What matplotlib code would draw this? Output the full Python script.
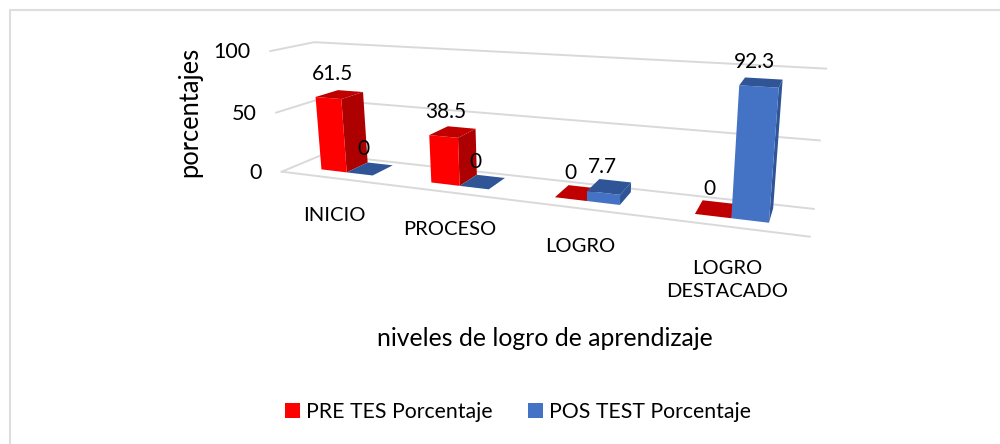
import numpy as np
import matplotlib
matplotlib.use('Agg')
import matplotlib.pyplot as plt
from matplotlib.patches import Polygon, Patch

plt.rcParams['font.family'] = ['Lato', 'DejaVu Sans']

categories = ['INICIO', 'PROCESO', 'LOGRO', 'LOGRO\nDESTACADO']
pre_test = [61.5, 38.5, 0, 0]
pos_test = [0, 0, 7.7, 92.3]
y_ticks = [0, 50, 100]

BAR_LO, BAR_HI = 0.26, 0.74
D0, D1 = 0.3, 0.85

# known spots (x, depth, height in %) -> where they land on the picture
box_pts = [(0, 0, 0), (0, 0, 50), (0, 0, 100), (0, 1, 100),
           (1, 1, 100), (1, 1, 50), (1, 1, 0), (1, 0, 0),
           # bar corners
           (.125, D0, 0), (.375, D0, 0), (.625, D0, 0), (.875, D0, 0),
           (BAR_LO / 4, D0, 61.5), (BAR_HI / 4, D1, 0), (BAR_HI / 4, D0, 0),
           ((3 + BAR_HI) / 4, D0, 92.3), ((3 + BAR_HI) / 4, D0, 0), ((3 + BAR_HI) / 4, D1, 92.3),
           (.125, D1, 61.5), ((3 + BAR_LO) / 4, D1, 0), ((2 + BAR_LO) / 4, D1, 0)]
img_pts = [(282, 172), (275, 113), (268, 52), (318, 41),
           (827, 69), (820, 139), (814, 207), (809, 238),
           (348, 171), (462, 185), (588, 201), (732, 218),
           (317, 97), (389, 166), (374, 174),
           (778, 87), (769, 222), (782, 80),
           (360, 93), (702, 203), (568, 187)]

# solve the perspective camera from those points
rows = []
rhs = []
for (a, b, c), (u, v) in zip(box_pts, img_pts):
    c = c / 100
    rows.append([a, b, c, 1, 0, 0, 0, 0, -u * a, -u * b, -u * c])
    rhs.append(u)
    rows.append([0, 0, 0, 0, a, b, c, 1, -v * a, -v * b, -v * c])
    rhs.append(v)
cam = np.linalg.lstsq(np.array(rows, float), np.array(rhs, float), rcond=None)[0]
cam = np.append(cam, 1).reshape(3, 4)


def project(x, d, z):
    p = cam @ np.array([x, d, z / 100, 1])
    return p[0] / p[2], p[1] / p[2]


def bar(ax, x0, x1, value, front, side, top):
    A = project(x0, D0, 0)
    B = project(x1, D0, 0)
    C = project(x1, D0, value)
    D = project(x0, D0, value)
    E = project(x1, D1, 0)
    F = project(x1, D1, value)
    G = project(x0, D1, value)
    ax.add_patch(Polygon([B, E, F, C], fc=side, ec='none', zorder=3))
    if value > 0:
        ax.add_patch(Polygon([A, B, C, D], fc=front, ec='none', zorder=3))
    ax.add_patch(Polygon([D, C, F, G], fc=top, ec='none', zorder=3))


fig = plt.figure(figsize=(10, 4.44), dpi=100)
ax = fig.add_axes([0, 0, 1, 1])
ax.set_xlim(0, 1000)
ax.set_ylim(444, 0)
ax.axis('off')

# chart frame, only top and left show
ax.plot([9.5, 9.5, 1000], [444, 10.5, 10.5], color='#dedede', lw=1.5, zorder=0)

# gridlines on side and back walls, plus the floor edge
grid = dict(color='#d9d9d9', lw=1.4, zorder=1)
for t in y_ticks:
    pts = [project(0, 0, t), project(0, 1, t), project(1, 1, t)]
    ax.plot(*zip(*pts), **grid)
    fx, fy = project(0, 0, t)
    ax.text(fx - 20, fy + 1, str(t), ha='right', va='center', fontsize=15.5, color='black')
ax.plot(*zip(project(0, 0, 0), project(1, 0, 0)), **grid)

n = len(categories)
for i in range(n):
    x0 = (i + BAR_LO) / n
    xm = (i + 0.5) / n
    x1 = (i + BAR_HI) / n
    bar(ax, x0, xm, pre_test[i], '#ff0000', '#ad0000', '#c00000')
    bar(ax, xm, x1, pos_test[i], '#4472c4', '#2f5597', '#2f5597')
    for a, b, v in [(x0, xm, pre_test[i]), (xm, x1, pos_test[i])]:
        lx, ly = project((a + b) / 2, (D0 + D1) / 2, v)
        ax.text(lx - 7, ly - 20, f'{v:g}', ha='center', va='center', fontsize=15, color='black', zorder=5)

label_pos = [(334, 215), (450, 229), (580, 246), (727, 280)]
for name, (lx, ly) in zip(categories, label_pos):
    ax.text(lx, ly, name, ha='center', va='center', fontsize=14.5, color='black', linespacing=1.45)

ax.text(190, 112, 'porcentajes', rotation=90, ha='center', va='center', fontsize=18.4, color='black')
ax.text(545, 338, 'niveles de logro de aprendizaje', ha='center', va='center', fontsize=17.8, color='black')

handles = [Patch(fc='#ff0000', label='PRE TES Porcentaje'), Patch(fc='#4472c4', label='POS TEST Porcentaje')]
ax.legend(handles=handles, ncols=2, loc='center', bbox_to_anchor=(518, 412), bbox_transform=ax.transData,
          frameon=False, fontsize=15.3, handlelength=0.7, handleheight=0.7, handletextpad=0.28, columnspacing=1.7)

fig.savefig('out.png', dpi=100)
